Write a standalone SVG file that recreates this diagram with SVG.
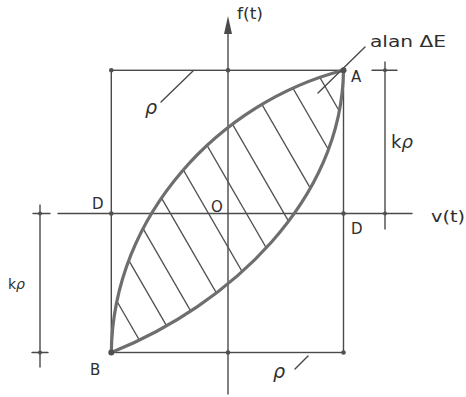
<svg xmlns="http://www.w3.org/2000/svg" width="466" height="397" viewBox="0 0 466 397">
<style>
.ln{stroke:#4a4a4a;stroke-width:1.4;fill:none;stroke-linecap:round}
.ht{stroke:#505050;stroke-width:1.3;fill:none}
.cv{stroke:#6e6e6e;stroke-width:3.2;fill:none;stroke-linejoin:round}
.dot{fill:#505050}
text{font-family:"DejaVu Sans","Liberation Sans",sans-serif;fill:#2e2e2e}
.lb{font-size:15px}
.rh{font-size:19px;font-style:italic}
</style>
<defs>
<clipPath id="lens">
<path d="M111.3,352.5 C113,215 220,102 343.5,70.3 C342,200 230,305 111.3,352.5 Z"/>
</clipPath>
</defs>
<rect width="466" height="397" fill="#ffffff"/>
<g id="frame">
<rect class="ln" x="111.3" y="70.3" width="232.2" height="282.2"/>
</g>
<g id="axes">
<line class="ln" x1="228" y1="30" x2="228" y2="394"/>
<polygon points="228,16 224,34 232,34" fill="#4a4a4a"/>
<line class="ln" x1="58" y1="213.5" x2="412" y2="213.5"/>
</g>
<g id="dimensions">
<line class="ln" x1="385" y1="62" x2="385" y2="229"/>
<line class="ln" x1="372" y1="70.3" x2="397" y2="70.3"/>
<line class="ln" x1="40" y1="205" x2="40" y2="367"/>
<line class="ln" x1="33" y1="213.5" x2="50" y2="213.5"/>
<line class="ln" x1="32" y1="352.5" x2="48" y2="352.5"/>
</g>
<g id="hatch" clip-path="url(#lens)">
<line class="ht" x1="100" y1="272" x2="350" y2="704.5"/>
<line class="ht" x1="100" y1="210.6" x2="350" y2="643.1"/>
<line class="ht" x1="100" y1="154.1" x2="350" y2="586.6"/>
<line class="ht" x1="100" y1="91.6" x2="350" y2="524.1"/>
<line class="ht" x1="100" y1="25.7" x2="350" y2="458.2"/>
<line class="ht" x1="100" y1="-39.8" x2="350" y2="392.7"/>
<line class="ht" x1="100" y1="-105" x2="350" y2="327.5"/>
<line class="ht" x1="100" y1="-175.7" x2="350" y2="256.8"/>
<line class="ht" x1="100" y1="-245.6" x2="350" y2="186.9"/>
<line class="ht" x1="100" y1="-302.9" x2="350" y2="129.6"/>
</g>
<g id="curves">
<path class="cv" d="M111.3,352.5 C113,215 220,102 343.5,70.3"/>
<path class="cv" d="M111.3,352.5 C230,305 342,200 343.5,70.3"/>
</g>
<g id="connectors">
<line class="ln" x1="318" y1="93" x2="365" y2="47"/>
<line class="ln" x1="161" y1="102" x2="193" y2="71"/>
<line class="ln" x1="295" y1="369" x2="308" y2="356"/>
</g>
<g id="points">
<circle class="dot" cx="111.3" cy="70.3" r="2.3"/>
<circle class="dot" cx="228" cy="70.3" r="2.3"/>
<circle class="dot" cx="343.5" cy="70.3" r="3"/>
<circle class="dot" cx="111.3" cy="213.5" r="2.3"/>
<circle class="dot" cx="343.5" cy="213.5" r="2.3"/>
<circle class="dot" cx="111.3" cy="352.5" r="3"/>
<circle class="dot" cx="228" cy="352.5" r="2.3"/>
<circle class="dot" cx="343.5" cy="352.5" r="2.3"/>
<circle class="dot" cx="385" cy="70.3" r="2"/>
<circle class="dot" cx="385" cy="213.5" r="2"/>
<circle class="dot" cx="40" cy="213.5" r="2"/>
<circle class="dot" cx="40" cy="352.5" r="2"/>
</g>
<g id="labels">
<text x="237" y="19" font-size="15" textLength="26" lengthAdjust="spacingAndGlyphs">f(t)</text>
<text x="370" y="47" font-size="16" textLength="76" lengthAdjust="spacingAndGlyphs">alan ΔE</text>
<text class="lb" x="351" y="82">A</text>
<text x="391" y="148" font-size="18">k<tspan font-style="italic">ρ</tspan></text>
<text x="431" y="222" font-size="15" textLength="34" lengthAdjust="spacingAndGlyphs">v(t)</text>
<text class="lb" x="351" y="234">D</text>
<text class="lb" x="92" y="209">D</text>
<text class="lb" x="211" y="211.5">O</text>
<text x="8" y="289" font-size="14">k<tspan font-style="italic">ρ</tspan></text>
<text class="lb" x="90" y="375">B</text>
<text class="rh" x="145" y="114">ρ</text>
<text class="rh" x="273" y="378">ρ</text>
</g>
</svg>
